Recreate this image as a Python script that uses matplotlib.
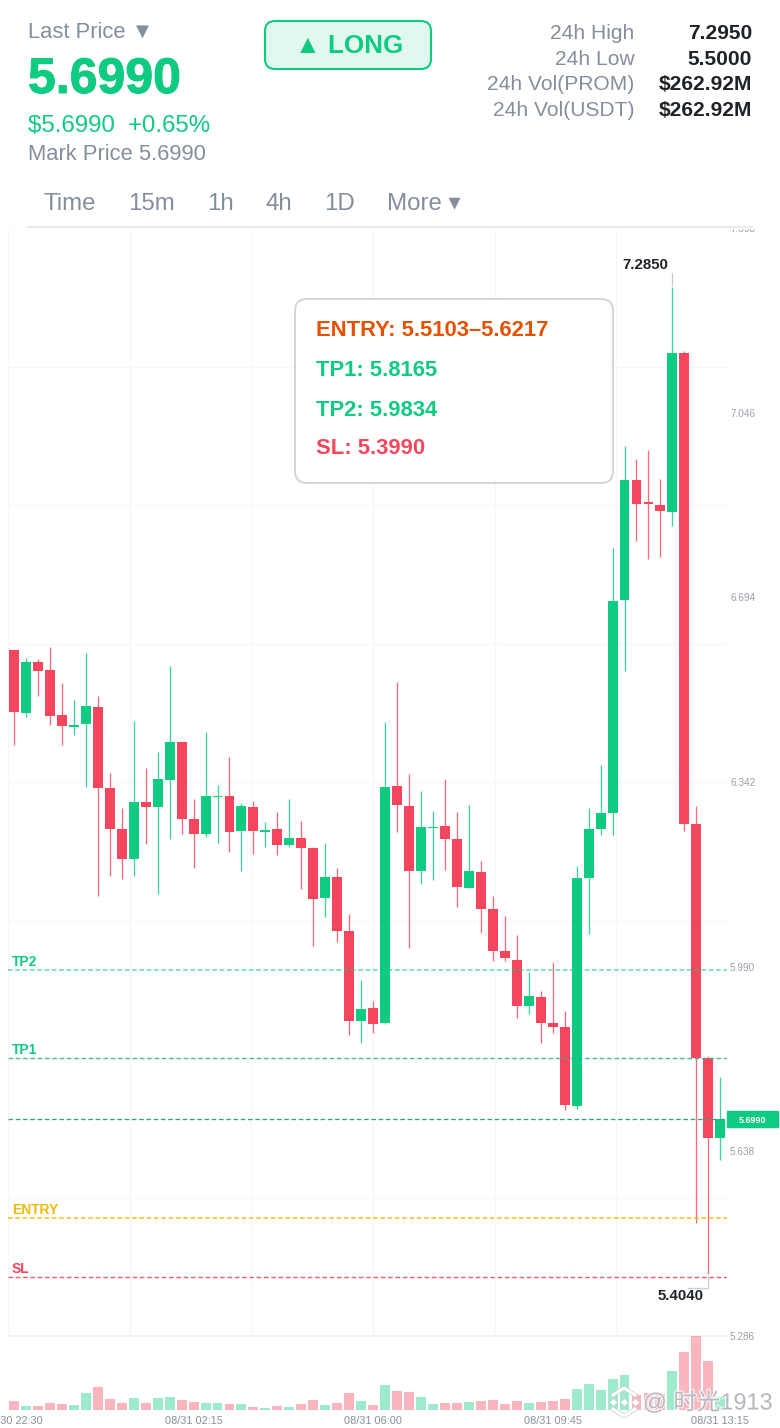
import matplotlib
matplotlib.use('Agg')
from matplotlib import pyplot as plt
from matplotlib.patches import FancyBboxPatch, Rectangle
import matplotlib.patheffects as pe

plt.rcParams['font.family'] = ['Liberation Sans', 'DejaVu Sans', 'Noto Sans CJK SC']

# candles, oldest first (15m)
opens = [6.593, 6.473, 6.570, 6.555, 6.469, 6.447, 6.453, 6.485, 6.330, 6.252,
         6.195, 6.304, 6.294, 6.346, 6.418, 6.271, 6.243, 6.313, 6.315, 6.248,
         6.294, 6.247, 6.252, 6.222, 6.235, 6.216, 6.121, 6.161, 6.058, 5.886,
         5.911, 5.883, 6.334, 6.296, 6.172, 6.254, 6.258, 6.233, 6.140, 6.170,
         6.100, 6.020, 6.003, 5.915, 5.932, 5.883, 5.875, 5.724, 6.159, 6.252,
         6.283, 6.689, 6.917, 6.874, 6.870, 6.856, 7.159, 6.262, 5.816, 5.663]
closes = [6.475, 6.570, 6.553, 6.468, 6.449, 6.450, 6.487, 6.330, 6.252, 6.195,
          6.304, 6.294, 6.348, 6.418, 6.271, 6.243, 6.315, 6.315, 6.247, 6.296,
          6.248, 6.248, 6.222, 6.235, 6.216, 6.119, 6.161, 6.058, 5.886, 5.909,
          5.881, 6.332, 6.298, 6.172, 6.256, 6.256, 6.233, 6.142, 6.172, 6.100,
          6.020, 6.006, 5.915, 5.934, 5.883, 5.875, 5.726, 6.159, 6.252, 6.283,
          6.687, 6.917, 6.872, 6.872, 6.858, 7.159, 6.262, 5.816, 5.663, 5.699]
highs = [6.593, 6.578, 6.576, 6.599, 6.530, 6.498, 6.588, 6.506, 6.359, 6.292,
         6.458, 6.368, 6.399, 6.563, 6.418, 6.309, 6.437, 6.336, 6.389, 6.302,
         6.306, 6.266, 6.285, 6.309, 6.267, 6.218, 6.226, 6.178, 6.090, 5.964,
         5.924, 6.456, 6.532, 6.357, 6.325, 6.287, 6.348, 6.285, 6.298, 6.191,
         6.125, 6.087, 6.050, 5.980, 5.943, 5.999, 5.905, 6.182, 6.292, 6.374,
         6.788, 6.982, 6.957, 6.974, 6.919, 7.285, 7.163, 6.296, 5.820, 5.780]
lows = [6.412, 6.466, 6.506, 6.450, 6.412, 6.431, 6.332, 6.125, 6.163, 6.157,
        6.163, 6.224, 6.128, 6.233, 6.243, 6.178, 6.237, 6.226, 6.208, 6.172,
        6.205, 6.218, 6.203, 6.218, 6.138, 6.029, 6.085, 6.037, 5.860, 5.845,
        5.863, 5.881, 6.247, 6.025, 6.147, 6.155, 6.174, 6.104, 6.140, 6.054,
        6.001, 6.001, 5.892, 5.900, 5.845, 5.863, 5.717, 5.719, 6.052, 6.241,
        6.241, 6.553, 6.801, 6.767, 6.770, 6.830, 6.248, 5.501, 5.404, 5.621]
volumes = [9, 4, 3.7, 6.7, 6.3, 5, 17, 23, 11, 6.7,
           12, 7, 12, 12.7, 10.3, 8.3, 7, 6.7, 6.3, 6,
           3, 2, 4, 3, 6, 9.7, 5.3, 7, 17, 9,
           5, 25, 19, 18, 13, 6, 7.3, 6.7, 7.7, 9,
           10.3, 6, 9.3, 7, 8, 8.7, 11.3, 21.3, 26, 20,
           31, 35, 15, 17, 16, 39, 58, 74, 49, 12.7]

price_ticks = [7.398, 7.046, 6.694, 6.342, 5.990, 5.638, 5.286]
time_ticks = [0, 15, 30, 45, 59]
time_labels = ['08/30 22:30', '08/31 02:15', '08/31 06:00', '08/31 09:45', '08/31 13:15']

level_names = ['TP2', 'TP1', 'ENTRY', 'SL']
level_prices = [5.9834, 5.8165, 5.5103, 5.3990]
last_price = 5.6990

GREEN = '#0ecb81'
RED = '#f6465d'
AMBER = '#f0b90b'
GREY = '#848e9c'
DARK = '#1e2329'
GRID = '#f6f7f8'
W, H = 780, 1428


def px_axes(x0, y0, x1, y1):
    return fig.add_axes([x0 / W, 1 - y1 / H, (x1 - x0) / W, (y1 - y0) / H])


fig = plt.figure(figsize=(W / 100, H / 100), dpi=100, facecolor='white')
xlim = (-0.501, 59.56)
idx = list(range(len(opens)))
colors = [GREEN if c >= o else RED for o, c in zip(opens, closes)]

ax = px_axes(8, 228, 727, 1336)
ax.set_xlim(*xlim)
ax.set_ylim(5.286, 7.398)
for s in ax.spines.values():
    s.set_visible(False)
ax.spines['bottom'].set_visible(True)
ax.spines['bottom'].set_color('#f0f1f3')
ax.spines['bottom'].set_linewidth(1.4)

# grid splits don't line up with the price labels
for i in range(1, 9):
    ax.plot([0, 1], [i / 8, i / 8], transform=ax.transAxes, color=GRID, lw=0.9, zorder=1)
for i in range(0, 6):
    f = i * 121.67 / 719
    ax.plot([f, f], [0, 1], transform=ax.transAxes, color=GRID, lw=0.9, zorder=1)

ax.vlines(idx, lows, highs, colors=colors, lw=0.95, alpha=0.8, zorder=3)
bottoms = [min(o, c) for o, c in zip(opens, closes)]
heights = [max(abs(o - c), 0.003) for o, c in zip(opens, closes)]
ax.bar(idx, heights, bottom=bottoms, width=0.83, color=colors, zorder=4)

ax.yaxis.tick_right()
ax.set_yticks(price_ticks)
ax.set_yticklabels([f'{p:.3f}' for p in price_ticks])
ax.tick_params(axis='y', length=0, pad=2.2, labelsize=7.2, labelcolor='#9aa0aa')
ax.set_xticks([])

level_colors = [GREEN, '#2fb88a', AMBER, RED]
level_alpha = [0.55, 0.9, 0.85, 0.9]
level_lw = [1.35, 0.95, 1.2, 1.0]
for name, p, c, a, lw in zip(level_names, level_prices, level_colors, level_alpha, level_lw):
    ax.axhline(p, color=c, lw=lw, ls=(0, (4.6 / (lw / 0.72), 2.7 / (lw / 0.72))), alpha=a, zorder=5)
    ax.annotate(name, (0, p), xycoords=('axes fraction', 'data'), xytext=(2.9, 3),
                textcoords='offset points', color=GREEN if name.startswith('TP') else c,
                fontsize=10, fontweight='bold', va='baseline', zorder=6)
ax.axhline(last_price, color='#2fa585', lw=0.95, ls=(0, (3.5, 2.0)), zorder=5)

vol = px_axes(8, 1336, 727, 1410)
vol.set_xlim(*xlim)
vol.set_ylim(0, 74)
vol.bar(idx, volumes, width=0.83, color=colors, alpha=0.4)
for s in vol.spines.values():
    s.set_visible(False)
vol.set_yticks([])
vol.set_xticks(time_ticks)
vol.set_xticklabels(time_labels)
vol.tick_params(axis='x', length=0, pad=4.2, labelsize=7.9, labelcolor='#8a919c')
vol.patch.set_alpha(0)

# everything around the chart is laid out in screen pixels
top = px_axes(0, 0, W, H)
top.set_xlim(0, W)
top.set_ylim(H, 0)
top.axis('off')
top.patch.set_alpha(0)
top.add_patch(Rectangle((0, 0), W, 228, color='white', zorder=1))
top.plot([28, 752], [227, 227], color='#e8eaed', lw=1.5, zorder=2)


def label(x, y, s, px, color=GREY, ha='left', bold=False, **kw):
    # y is the middle of the digits, so rows stay even whatever the glyphs are
    return top.text(x, y + 0.32 * px, s, fontsize=px * 0.72, color=color, ha=ha, va='baseline',
                    fontweight='bold' if bold else 'normal', zorder=6, **kw)


label(28, 31, 'Last Price ▼', 22)
label(28, 77, '5.6990', 50, GREEN, bold=True,
      path_effects=[pe.withStroke(linewidth=0.7, foreground=GREEN)])
label(28, 124, '$5.6990  +0.65%', 24, GREEN)
label(28, 153, 'Mark Price 5.6990', 22)

top.add_patch(FancyBboxPatch((265, 21), 166, 48, boxstyle='round,pad=0,rounding_size=10',
                             fc='#e0f8ee', ec=GREEN, lw=1.5, zorder=3))
label(349, 45, '▲ LONG', 26, GREEN, ha='center', bold=True)

stat_names = ['24h High', '24h Low', '24h Vol(PROM)', '24h Vol(USDT)']
stat_values = ['7.2950', '5.5000', '$262.92M', '$262.92M']
for y, n, v in zip([32, 58, 83, 109], stat_names, stat_values):
    label(634.5, y, n, 21, ha='right')
    label(752, y, v, 21, DARK, ha='right', bold=True)

for x, s in zip([44, 128, 207, 266, 324, 387], ['Time', '15m', '1h', '4h', '1D', 'More ▾']):
    label(x, 202, s, 24)

top.add_patch(FancyBboxPatch((295, 299), 318, 184, boxstyle='round,pad=0,rounding_size=12',
                             fc='white', ec='#d3d7dc', lw=1.5, zorder=3))
label(316, 329, 'ENTRY: 5.5103–5.6217', 22, '#e65100', bold=True)
label(316, 369, 'TP1: 5.8165', 22, GREEN, bold=True)
label(316, 409, 'TP2: 5.9834', 22, GREEN, bold=True)
label(316, 447, 'SL: 5.3990', 22, RED, bold=True)

label(645, 264, '7.2850', 15, DARK, ha='center', bold=True)
top.plot([672, 672], [273, 285], color='#c9cdd3', lw=0.9, zorder=5)
label(681, 1295, '5.4040', 15, DARK, ha='center', bold=True)
top.plot([708, 708, 688], [1277, 1288, 1288], color='#c9cdd3', lw=0.9, zorder=5)

top.add_patch(Rectangle((727, 1111), 51, 16, color=GREEN, zorder=5))
label(752.5, 1120, '5.6990', 9, 'white', ha='center', bold=True)

# watermark
halo = [pe.withStroke(linewidth=1.8, foreground='white', alpha=0.75)]
label(643, 1402, '@ 时光1913', 23.5, '#b0b4bb', alpha=0.9, path_effects=halo)
edge = [pe.withStroke(linewidth=3.2, foreground='#c9cdd3')]
top.plot([613, 624, 635], [1395, 1388, 1395], color='white', lw=2.2, zorder=7, path_effects=edge)
top.plot([613, 624, 635], [1409, 1416, 1409], color='white', lw=2.2, zorder=7, path_effects=edge)
top.plot([613, 624, 635], [1402, 1402, 1402], ls='none', marker='D', ms=4,
         mfc='white', mec='#c9cdd3', mew=0.5, zorder=8)

fig.savefig('out.png', dpi=100)
